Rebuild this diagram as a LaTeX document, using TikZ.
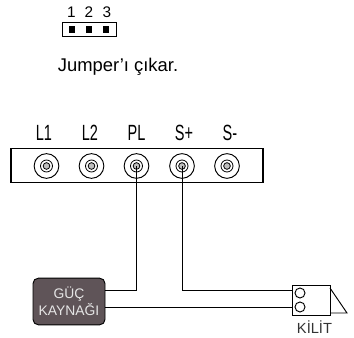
\documentclass[tikz,border=0pt]{standalone}
\usepackage{fontspec}
\setmainfont{Liberation Sans}
\usetikzlibrary{positioning,calc}
\definecolor{boxfill}{HTML}{5F5458}
\tikzset{
	pinlabel/.style={font=\fontsize{16.5pt}{18pt}\selectfont},
	terminal/.style={circle, draw, line width=0.7pt, minimum size=18.5pt, inner sep=0pt, fill=white},
	wire/.style={line width=0.75pt},
	pinhole/.style={rectangle, fill=black, minimum size=5pt, inner sep=0pt},
}
\begin{document}
\begin{tikzpicture}[x=0.75pt, y=-0.75pt]
	\useasboundingbox (0,0) rectangle (354,338);
	% jumper
	\node[name=jmp, draw, line width=0.6pt, minimum width=40.5pt, minimum height=11pt, inner sep=0pt] at (89,29.5) {};
	\node[name=p1, pinhole] at (72,29.5) {};
	\node[name=p2, pinhole] at (89,29.5) {};
	\node[name=p3, pinhole] at (106,29.5) {};
	\node[name=n1, font=\fontsize{11.5pt}{13pt}\selectfont] at (71.5,12) {1};
	\node[name=n2, font=\fontsize{11.5pt}{13pt}\selectfont] at (89,12) {2};
	\node[name=n3, font=\fontsize{11.5pt}{13pt}\selectfont] at (107,12) {3};
	\node[name=note, font=\fontsize{13.8pt}{15pt}\selectfont] at (118,67) {Jumper’ı çıkar.};
	% terminal block
	\node[name=block, draw, line width=0.8pt, minimum width=189pt, minimum height=26pt, inner sep=0pt] at (137,165.5) {};
	\foreach \nm/\px/\lx/\txt in {a/46.5/44/L1, b/91.5/90/L2, c/136.5/136.5/PL, d/182/184/S+, e/227/230/S-} {
		\node[name=t\nm, terminal] at (\px,166) {};
		\node[name=m\nm, circle, draw, line width=0.6pt, minimum size=9pt, inner sep=0pt] at (t\nm) {};
		\node[name=k\nm, circle, draw, line width=0.6pt, minimum size=5pt, inner sep=0pt, fill=gray!50] at (t\nm) {};
		\node[name=l\nm, pinlabel] at (\lx,133) {\scalebox{0.66}[1]{\txt}};
	}
	% power supply and lock
	\node[name=psu, draw=black, line width=0.7pt, fill=boxfill, rounded corners=4pt, minimum width=54pt, minimum height=35pt, inner sep=0pt, align=center, text=white!90!black, font=\fontsize{10.4pt}{12.75pt}\selectfont] at (69,301.5) {GÜÇ\\KAYNAĞI};
	\node[name=lock, draw, line width=0.7pt, minimum width=28.5pt, minimum height=22pt, inner sep=0pt] at (311,300.5) {};
	\node[name=c1, circle, draw, line width=0.7pt, minimum size=7.5pt, inner sep=0pt] at (300,293) {};
	\node[name=c2, circle, draw, line width=0.7pt, minimum size=7.5pt, inner sep=0pt] at (300,307) {};
	\node[name=locktxt, font=\fontsize{11pt}{12pt}\selectfont, text=black!80] at (314.5,327) {KİLİT};
	\coordinate (tipa) at (330,288);
	\coordinate (tipb) at (347,313);
	\coordinate (tipc) at (330,313);
	\draw[line width=0.7pt] (tipa) -- (tipb) -- (tipc);
	% wires
	\draw[wire] (tc.center) |- (psu.east |- 0,291);
	\draw[wire] (td.center) |- (lock.west |- 0,291);
	\draw[wire] (psu.east |- 0,308) -- (lock.west |- 0,308);
\end{tikzpicture}
\end{document}
